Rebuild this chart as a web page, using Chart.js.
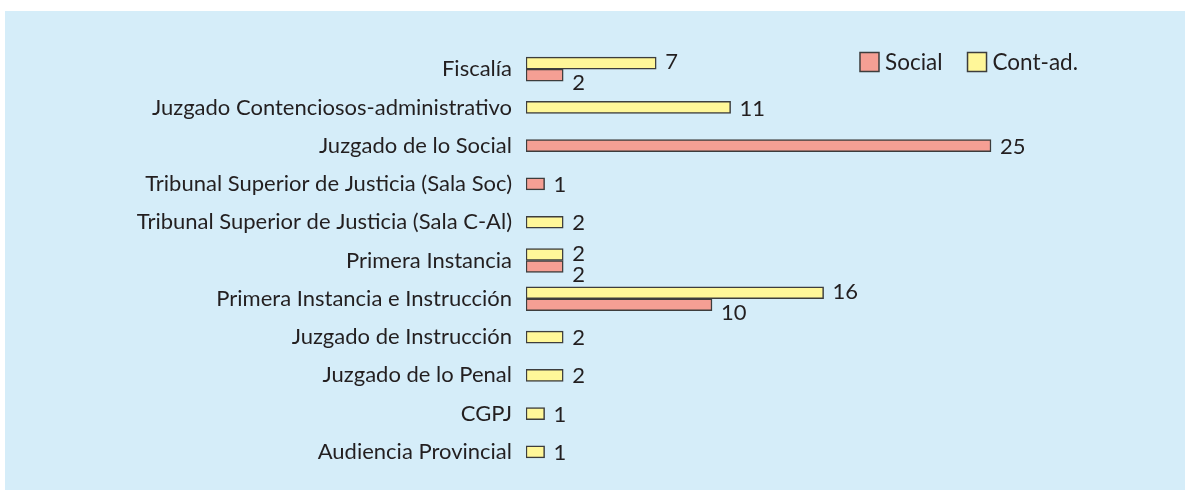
<!DOCTYPE html>
<html>
<head>
<meta charset="utf-8">
<script src="https://cdn.jsdelivr.net/npm/chart.js@4/dist/chart.umd.min.js"></script>
<style>
  html, body { margin: 0; padding: 0; background: #fff; }
  #panel { position: absolute; left: 5px; top: 11px; width: 1180px; height: 479px; background: #d5edf9; }
  #wrap { position: absolute; left: 0; top: 0; width: 1189px; height: 494px; }
</style>
</head>
<body>
<div id="panel"></div>
<div id="wrap"><canvas id="chart"></canvas></div>
<script>
// ── data ──────────────────────────────────────────
const categories = [
  'Fiscalía',
  'Juzgado Contenciosos-administrativo',
  'Juzgado de lo Social',
  'Tribunal Superior de Justicia (Sala Soc)',
  'Tribunal Superior de Justicia (Sala C-Al)',
  'Primera Instancia',
  'Primera Instancia e Instrucción',
  'Juzgado de Instrucción',
  'Juzgado de lo Penal',
  'CGPJ',
  'Audiencia Provincial'
];
const contAd = [7, 11, null, null, 2, 2, 16, 2, 2, 1, 1];
const social = [2, null, 25, 1, null, 2, 10, null, null, null, null];

const TEXT = '#231f20';
const FONT = 'Lato';

// value labels next to each bar
const valueLabels = {
  id: 'valueLabels',
  afterDatasetsDraw(chart) {
    const ctx = chart.ctx;
    ctx.save();
    ctx.fillStyle = TEXT;
    ctx.font = `22px ${FONT}`;
    ctx.textBaseline = 'middle';
    ctx.textAlign = 'left';
    chart.data.datasets.forEach((ds, di) => {
      chart.getDatasetMeta(di).data.forEach((bar, i) => {
        const v = ds.data[i];
        if (v == null) return;
        const paired = contAd[i] != null && social[i] != null;
        let dy = 1;
        if (paired) dy = di === 0 ? -1 : 8;
        ctx.fillText(String(v), bar.x + 9, bar.y + dy);
      });
    });
    ctx.restore();
  }
};

// legend drawn at the top-right of the plot area (Social first)
const cornerLegend = {
  id: 'cornerLegend',
  afterDraw(chart) {
    const ctx = chart.ctx;
    const area = chart.chartArea;
    const order = [1, 0];
    const box = 19, gap = 6, spacing = 25;
    ctx.save();
    ctx.font = `22.5px ${FONT}`;
    ctx.textBaseline = 'middle';
    const y = area.top + 12;
    const widths = order.map(di => box + gap + ctx.measureText(chart.data.datasets[di].label).width);
    const total = widths.reduce((a, b) => a + b, 0) + spacing * (order.length - 1);
    let x = area.right - 6 - total;
    order.forEach((di, k) => {
      const ds = chart.data.datasets[di];
      ctx.fillStyle = ds.backgroundColor;
      ctx.strokeStyle = '#3d3d3d';
      ctx.lineWidth = 1.5;
      ctx.fillRect(x, y - box / 2, box, box);
      ctx.strokeRect(x, y - box / 2, box, box);
      ctx.fillStyle = TEXT;
      ctx.fillText(ds.label, x + box + gap, y + 1);
      x += widths[k] + spacing;
    });
    ctx.restore();
  }
};

new Chart(document.getElementById('chart'), {
  type: 'bar',
  data: {
    labels: categories,
    datasets: [
      {
        label: 'Cont-ad.',
        data: contAd,
        backgroundColor: '#fff799',
        borderColor: '#3d3d3d',
        borderWidth: 1.5,
        borderSkipped: false,
        barThickness: 12,
        skipNull: true
      },
      {
        label: 'Social',
        data: social,
        backgroundColor: '#f59f94',
        borderColor: '#3d3d3d',
        borderWidth: 1.5,
        borderSkipped: false,
        barThickness: 12,
        skipNull: true
      }
    ]
  },
  options: {
    indexAxis: 'y',
    responsive: true,
    maintainAspectRatio: false,
    animation: false,
    layout: { padding: { left: 0, right: 105, top: 50, bottom: 23 } },
    scales: {
      x: {
        display: false,
        min: 0,
        max: 30
      },
      y: {
        grid: { display: false, drawTicks: false },
        border: { display: false },
        ticks: {
          color: TEXT,
          padding: 14,
          font: { family: FONT, size: 22 }
        },
        afterFit: s => {
          s.width = 526;
          s.paddingTop = 0;
          s.paddingBottom = 0;
        }
      }
    },
    plugins: {
      legend: { display: false },
      tooltip: { enabled: false }
    }
  },
  plugins: [valueLabels, cornerLegend]
});
</script>
</body>
</html>
